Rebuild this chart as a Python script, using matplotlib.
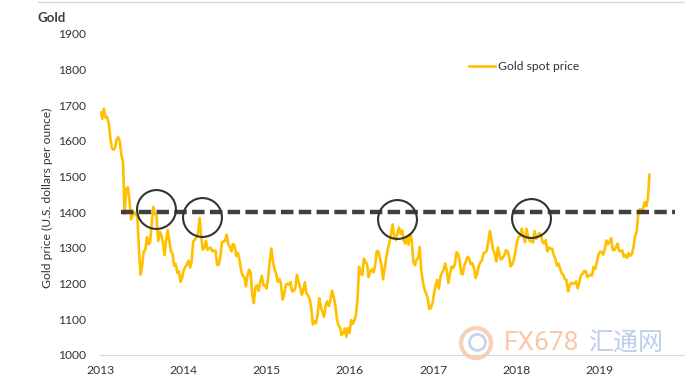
import matplotlib.pyplot as plt
import pandas as pd
from matplotlib.patches import Ellipse

# weekly gold spot price (USD/oz), Friday closes
gold_2013 = [1680, 1662, 1690, 1665,
             1667, 1650, 1610, 1580,
             1575, 1580, 1605, 1610, 1598,
             1560, 1540, 1395, 1465,
             1470, 1435, 1380, 1390, 1400,
             1395, 1385, 1295, 1225,
             1250, 1290, 1295, 1330,
             1310, 1315, 1370, 1415, 1395,
             1390, 1320, 1345, 1335,
             1315, 1280, 1320, 1350,
             1320, 1290, 1285, 1250, 1255,
             1230, 1235, 1205, 1215]
gold_2014 = [1238, 1246, 1254, 1264, 1245,
             1262, 1318, 1323, 1330,
             1340, 1384, 1332, 1295,
             1300, 1320, 1294, 1300,
             1300, 1290, 1293, 1292, 1252,
             1253, 1274, 1316, 1318,
             1320, 1337, 1310, 1303,
             1290, 1311, 1305, 1277, 1286,
             1267, 1237, 1222, 1218,
             1192, 1222, 1239, 1231, 1170,
             1145, 1190, 1195, 1180,
             1204, 1222, 1195, 1195]
gold_2015 = [1186, 1216, 1264, 1298, 1260,
             1240, 1227, 1205, 1213,
             1200, 1155, 1169, 1196,
             1200, 1197, 1204, 1178,
             1179, 1187, 1224, 1205, 1190,
             1168, 1181, 1204, 1172,
             1167, 1157, 1131, 1085, 1095,
             1089, 1113, 1159, 1134,
             1121, 1107, 1137, 1150,
             1137, 1154, 1180, 1164, 1142,
             1104, 1083, 1077, 1056,
             1061, 1074, 1051, 1075]
gold_2016 = [1062, 1098, 1087, 1097, 1111,
             1157, 1247, 1227, 1224,
             1270, 1260, 1255, 1218,
             1235, 1240, 1231, 1249, 1291,
             1290, 1272, 1252, 1212,
             1243, 1272, 1296, 1315,
             1339, 1366, 1330, 1322, 1342,
             1357, 1339, 1349, 1320,
             1312, 1331, 1309, 1338, 1322,
             1262, 1251, 1266, 1272,
             1302, 1236, 1204, 1184,
             1172, 1159, 1129, 1131, 1146]
gold_2017 = [1173, 1196, 1210, 1186,
             1219, 1231, 1239, 1256,
             1234, 1202, 1229, 1248, 1244,
             1254, 1288, 1284, 1266,
             1228, 1226, 1252, 1262,
             1275, 1270, 1254, 1257, 1243,
             1216, 1228, 1249, 1260,
             1265, 1285, 1287, 1292,
             1321, 1348, 1321, 1295, 1283,
             1262, 1301, 1280, 1267,
             1272, 1279, 1293, 1291,
             1277, 1248, 1255, 1266, 1291]
gold_2018 = [1318, 1330, 1334, 1354,
             1332, 1316, 1353, 1330,
             1319, 1320, 1315, 1347, 1325,
             1333, 1342, 1336, 1317,
             1312, 1322, 1290, 1301,
             1298, 1298, 1280, 1269, 1250,
             1256, 1241, 1229, 1224,
             1212, 1210, 1178, 1196, 1202,
             1199, 1201, 1206, 1187,
             1203, 1223, 1227, 1235,
             1235, 1218, 1222, 1224, 1222,
             1247, 1241, 1259, 1281]
gold_2019 = [1289, 1289, 1281, 1297,
             1321, 1310, 1317, 1327,
             1294, 1294, 1302, 1312, 1292,
             1290, 1293, 1275, 1280,
             1272, 1285, 1278, 1283, 1302,
             1334, 1344, 1397, 1409,
             1400, 1411, 1428, 1417,
             1437, 1505]
first_fridays = ["2013-01-04", "2014-01-03", "2015-01-02", "2016-01-01",
                 "2017-01-06", "2018-01-05", "2019-01-04"]

resistance = 1400
resistance_span = ["2013-04-05", "2019-11-28"]
# retests of the 1400 level that are circled on the chart
touch_dates = ["2013-09-03", "2014-03-24", "2016-07-27", "2018-03-08"]
touch_prices = [1409, 1387, 1381, 1384]

year_ticks = [str(y) for y in range(2013, 2020)]
price_ticks = list(range(1000, 2000, 100))

# build the series
yearly = [gold_2013, gold_2014, gold_2015, gold_2016, gold_2017, gold_2018, gold_2019]
dates, prices = [], []
for start, vals in zip(first_fridays, yearly):
    dates.extend(pd.date_range(start, periods=len(vals), freq="W-FRI"))
    prices.extend(vals)

plt.rcParams["font.family"] = ["Lato", "DejaVu Sans"]
fig = plt.figure(figsize=(6.85, 3.8), dpi=100)
ax = fig.add_axes([0.146, 0.066, 0.854, 0.845])

ax.plot(dates, prices, color="#FFC000", lw=1.9, label="Gold spot price", zorder=3)
ax.plot(pd.to_datetime(resistance_span), [resistance, resistance], color="#404040",
        lw=3.2, linestyle=(0, (2.8, 1.2)), solid_capstyle="butt", zorder=4)
ax.plot(pd.to_datetime(touch_dates), touch_prices, linestyle="none", marker="o",
        ms=28, mfc="none", mec="#333333", mew=1.5, zorder=5)

ax.set_xlim(pd.Timestamp("2013-01-01"), pd.Timestamp("2020-01-12"))
ax.set_ylim(1000, 1900)
ax.set_yticks(price_ticks)
ax.set_xticks(pd.to_datetime([y + "-01-01" for y in year_ticks]))
ax.set_xticklabels(year_ticks)
ax.tick_params(axis="both", length=0, labelsize=8.7, colors="#333333")
ax.tick_params(axis="y", pad=10)
ax.tick_params(axis="x", pad=7)
for s in ["top", "right", "left"]:
    ax.spines[s].set_visible(False)
ax.spines["bottom"].set_color("#d9d9d9")

ax.set_ylabel("Gold price (U.S. dollars per ounce)", fontsize=8.7, color="#333333")
ax.yaxis.set_label_coords(-0.08, 0.49)

ax.legend(loc="upper left", bbox_to_anchor=(0.612, 0.95), frameon=False, fontsize=8.7,
          handlelength=2.2, handletextpad=0.2, labelcolor="#333333")

fig.text(0.055, 0.953, "Gold", fontsize=9.5, fontweight="bold", color="#404040", va="center")
fig.add_artist(plt.Line2D([0.055, 1.0], [0.995, 0.995], color="#d9d9d9", lw=1))

# faint watermark in the lower right corner
fig.add_artist(Ellipse((0.695, 0.097), 30 / 685, 30 / 380, transform=fig.transFigure,
                       fill=False, ec="#f5c6a5", lw=3, alpha=0.8))
fig.add_artist(Ellipse((0.697, 0.099), 16 / 685, 16 / 380, transform=fig.transFigure,
                       fill=False, ec="#b7c8e6", lw=2, alpha=0.8))
fig.text(0.79, 0.097, "FX678", fontsize=19, color="#f7c39c", ha="center", va="center",
         family=["Roboto", "DejaVu Sans"], alpha=0.9)
fig.text(0.915, 0.097, "汇通网", fontsize=18, color="#b7c8e6", ha="center", va="center",
         family=["Noto Sans CJK SC", "DejaVu Sans"], alpha=0.9)

fig.savefig("out.png", dpi=100)
